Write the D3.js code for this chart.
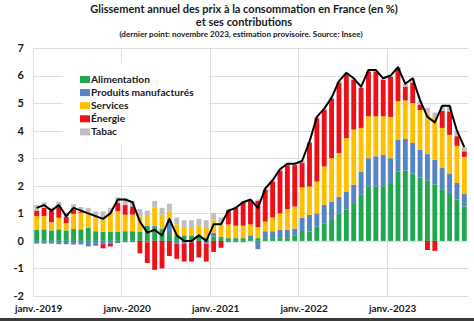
<!DOCTYPE html>
<html>
<head>
<meta charset="utf-8">
<script src="https://cdn.jsdelivr.net/npm/d3@7"></script>
<style>
  body { margin: 0; background: #fff; }
  svg { display: block; font-family: Lato, "Open Sans", sans-serif; }
</style>
</head>
<body>
<svg width="474" height="321"></svg>
<script>
var svg = d3.select("svg");
var width = +svg.attr("width");
var height = +svg.attr("height");

// Data: monthly contributions (points), janv. 2019 -> nov. 2023
var months = d3.timeMonth.range(new Date(2019, 0, 1), new Date(2023, 11, 1));

var alimentation = [
    0.40, 0.42, 0.38, 0.42, 0.38, 0.43, 0.42, 0.48, 0.35, 0.33, 0.33, 0.33,
    0.35, 0.35, 0.34, 0.55, 0.50, 0.40, 0.25, 0.20, 0.20, 0.20, 0.15, 0.10,
    0.15, 0.10, 0.10, 0.10, 0.10, 0.10, 0.10, 0.10, 0.10, 0.10, 0.10, 0.20,
    0.36, 0.34, 0.52, 0.64, 0.76, 1.00, 1.13, 1.37, 1.67, 1.98, 1.98, 1.98,
    2.10, 2.52, 2.55, 2.45, 2.30, 2.20, 2.05, 1.85, 1.70, 1.50, 1.25
];
var manufactures = [
    -0.10, -0.10, -0.10, -0.12, -0.12, -0.13, -0.13, -0.20, -0.15, -0.12, -0.10, -0.08,
    -0.05, -0.05, 0.00, -0.05, 0.05, 0.05, 0.50, -0.10, -0.10, -0.05, 0.05, -0.10,
    0.15, 0.05, -0.05, -0.05, -0.05, 0.10, -0.30, 0.25, 0.25, 0.30, 0.30, 0.25,
    0.48, 0.60, 0.48, 0.67, 0.67, 0.60, 0.66, 0.67, 0.85, 1.02, 1.09, 1.15,
    0.90, 1.15, 1.15, 1.10, 1.00, 0.95, 0.90, 0.80, 0.75, 0.60, 0.45
];
var services = [
    0.50, 0.48, 0.30, 0.42, 0.27, 0.55, 0.60, 0.55, 0.55, 0.50, 0.65, 0.75,
    0.60, 0.60, 0.55, 0.35, 0.65, 0.50, 0.35, 0.40, 0.30, 0.30, 0.35, 0.40,
    0.45, 0.45, 0.50, 0.45, 0.45, 0.40, 0.40, 0.35, 0.50, 0.60, 0.75, 0.80,
    1.10, 1.03, 1.15, 1.39, 1.57, 1.59, 1.94, 2.00, 1.58, 1.52, 1.45, 1.39,
    1.50, 1.40, 1.40, 1.45, 1.45, 1.50, 1.55, 1.45, 1.40, 1.35, 1.35
];
var energie = [
    0.20, 0.30, 0.42, 0.40, 0.22, 0.17, 0.03, 0.00, -0.02, -0.15, -0.10, 0.30,
    0.35, 0.30, -0.45, -0.75, -1.05, -1.00, -0.55, -0.55, -0.65, -0.70, -0.60, -0.65,
    -0.40, -0.25, 0.50, 0.65, 0.85, 0.85, 0.95, 1.15, 1.30, 1.55, 1.60, 1.50,
    0.90, 1.60, 2.30, 2.05, 2.15, 2.56, 2.32, 1.81, 1.45, 1.63, 1.63, 1.33,
    1.45, 1.20, 0.50, 0.75, 0.20, -0.33, -0.36, 0.62, 0.85, 0.35, 0.20
];
var tabac = [
    0.20, 0.20, 0.10, 0.18, 0.15, 0.18, 0.18, 0.17, 0.17, 0.24, 0.22, 0.20,
    0.25, 0.20, 0.26, 0.20, 0.25, 0.25, 0.25, 0.25, 0.25, 0.25, 0.25, 0.25,
    0.25, 0.25, 0.05, 0.05, 0.05, 0.05, 0.05, 0.05, 0.05, 0.05, 0.05, 0.05,
    0.06, 0.03, 0.05, 0.05, 0.05, 0.05, 0.05, 0.05, 0.05, 0.05, 0.05, 0.05,
    0.05, 0.03, 0.10, 0.15, 0.15, 0.18, 0.16, 0.18, 0.20, 0.20, 0.15
];
var ensemble = [
    1.2, 1.3, 1.1, 1.3, 0.9, 1.2, 1.1, 1.0, 0.9, 0.8, 1.0, 1.5,
    1.5, 1.4, 0.7, 0.3, 0.4, 0.2, 0.8, 0.2, 0.0, 0.0, 0.2, 0.0,
    0.6, 0.6, 1.1, 1.2, 1.4, 1.5, 1.2, 1.9, 2.2, 2.6, 2.8, 2.8,
    2.9, 3.6, 4.5, 4.8, 5.2, 5.8, 6.1, 5.9, 5.6, 6.2, 6.2, 5.9,
    6.0, 6.3, 5.7, 5.9, 5.1, 4.5, 4.3, 4.9, 4.9, 4.0, 3.4
];

var seriesNames = ["Alimentation", "Produits manufacturés", "Services", "Énergie", "Tabac"];
var seriesColors = ["#1fa84f", "#5585c6", "#ffc000", "#ee1018", "#bfbfbf"];
var yTicks = [-2, -1, 0, 1, 2, 3, 4, 5, 6, 7];
var xTickLabels = ["janv.-2019", "janv.-2020", "janv.-2021", "janv.-2022", "janv.-2023"];

var table = months.map(function(m, i) {
    var row = { month: m };
    row[seriesNames[0]] = alimentation[i];
    row[seriesNames[1]] = manufactures[i];
    row[seriesNames[2]] = services[i];
    row[seriesNames[3]] = energie[i];
    row[seriesNames[4]] = tabac[i];
    return row;
});

var plotLeft = 33, plotRight = 468, plotTop = 48, plotBottom = 296;

var x = d3.scaleBand()
    .domain(months)
    .range([plotLeft, plotRight])
    .paddingInner(0.34)
    .paddingOuter(0.17);

var y = d3.scaleLinear()
    .domain([-2, 7])
    .range([plotBottom, plotTop]);

var color = d3.scaleOrdinal().domain(seriesNames).range(seriesColors);

// titles
var titles = svg.append("g").attr("fill", "#1a1a1a").attr("text-anchor", "middle").attr("font-weight", "bold");
titles.append("text").attr("x", 244).attr("y", 13).attr("font-size", "11px")
    .text("Glissement annuel des prix à la consommation en France (en %)");
titles.append("text").attr("x", 244).attr("y", 26).attr("font-size", "11px")
    .text("et ses contributions");
titles.append("text").attr("x", 241).attr("y", 37).attr("font-size", "8.1px")
    .text("(dernier point: novembre 2023, estimation provisoire. Source: Insee)");

// grid
var grid = svg.append("g").attr("stroke", "#dedede").attr("stroke-width", 1);
grid.selectAll("line.h")
    .data(yTicks)
    .enter()
    .append("line")
    .attr("x1", plotLeft)
    .attr("x2", plotRight)
    .attr("y1", function(d) { return Math.round(y(d)) + 0.5; })
    .attr("y2", function(d) { return Math.round(y(d)) + 0.5; });

var yearStarts = months.filter(function(m) { return m.getMonth() === 0; });
grid.selectAll("line.v")
    .data(yearStarts)
    .enter()
    .append("line")
    .attr("x1", function(d) { return Math.round(x(d) - x.step() * x.paddingInner() / 2) + 0.5; })
    .attr("x2", function(d) { return Math.round(x(d) - x.step() * x.paddingInner() / 2) + 0.5; })
    .attr("y1", plotTop)
    .attr("y2", plotBottom);

// y labels
svg.append("g")
    .selectAll("text")
    .data(yTicks)
    .enter()
    .append("text")
    .attr("x", 24)
    .attr("y", function(d) { return y(d); })
    .attr("dy", "0.35em")
    .attr("text-anchor", "end")
    .attr("font-size", "11px")
    .attr("font-weight", "bold")
    .attr("fill", "#1a1a1a")
    .text(function(d) { return d; });

// x labels
svg.append("g")
    .selectAll("text")
    .data(yearStarts)
    .enter()
    .append("text")
    .attr("x", function(d) { return x(d) + x.bandwidth() / 2 + 2; })
    .attr("y", 312)
    .attr("text-anchor", "middle")
    .attr("font-size", "10px")
    .attr("font-weight", "bold")
    .attr("fill", "#1a1a1a")
    .text(function(d, i) { return xTickLabels[i]; });

// legend
var legend = svg.append("g");
legend.append("rect")
    .attr("x", 63).attr("y", 63).attr("width", 146).attr("height", 82)
    .attr("fill", "#fff");
var item = legend.selectAll("g")
    .data(seriesNames)
    .enter()
    .append("g")
    .attr("transform", function(d, i) { return "translate(80," + (79.5 + i * 13.1) + ")"; });
item.append("rect")
    .attr("x", 0).attr("y", -3.5).attr("width", 10).attr("height", 7)
    .attr("fill", function(d) { return color(d); });
item.append("text")
    .attr("x", 11)
    .attr("dy", "0.35em")
    .attr("font-size", "10.2px")
    .attr("font-weight", "bold")
    .attr("fill", "#1a1a1a")
    .text(function(d) { return d; });

// stacked bars
var stack = d3.stack()
    .keys(seriesNames)
    .offset(d3.stackOffsetDiverging);

svg.append("g")
    .selectAll("g")
    .data(stack(table))
    .enter()
    .append("g")
    .attr("fill", function(d) { return color(d.key); })
    .selectAll("rect")
    .data(function(d) { return d; })
    .enter()
    .append("rect")
    .attr("x", function(d) { return x(d.data.month); })
    .attr("width", x.bandwidth())
    .attr("y", function(d) { return y(Math.max(d[0], d[1])); })
    .attr("height", function(d) { return Math.abs(y(d[0]) - y(d[1])); });

// total line
var line = d3.line()
    .x(function(d, i) { return x(months[i]) + x.bandwidth() / 2; })
    .y(function(d) { return y(d); });

svg.append("path")
    .datum(ensemble)
    .attr("d", line)
    .attr("fill", "none")
    .attr("stroke", "#000")
    .attr("stroke-width", 2)
    .attr("stroke-linejoin", "round");

// bottom edge
svg.append("rect")
    .attr("x", 0).attr("y", 318).attr("width", width).attr("height", 3)
    .attr("fill", "#3c3c3c");
</script>
</body>
</html>
